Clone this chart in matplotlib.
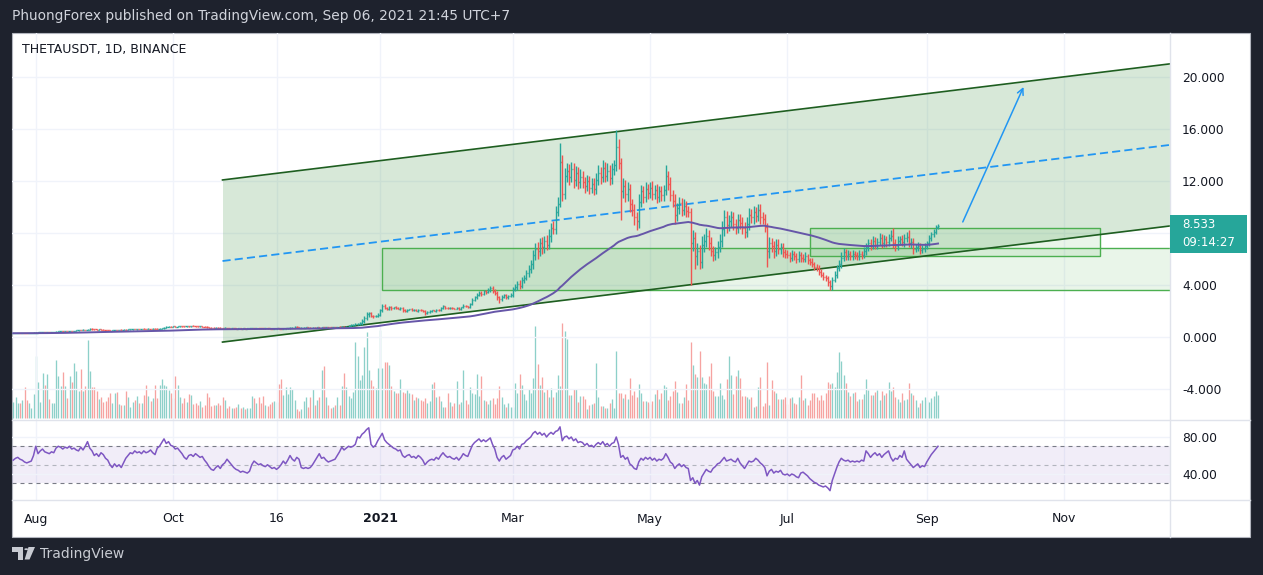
import numpy as np
import pandas as pd
import matplotlib
matplotlib.use("Agg")
import matplotlib.pyplot as plt
import matplotlib.dates as mdates
from matplotlib.collections import LineCollection
from matplotlib.patches import Rectangle, Polygon, Circle
from matplotlib.lines import Line2D

plt.rcParams['font.family'] = ['DejaVu Sans']

# ---- daily data, 2020-07-22 .. 2021-09-06 (one row per month) ----
first_day = "2020-07-22"

close = [
    0.29, 0.30, 0.31, 0.30, 0.32, 0.31, 0.30, 0.31, 0.32, 0.33,
    0.34, 0.35, 0.36, 0.37, 0.36, 0.37, 0.36, 0.37, 0.38, 0.40, 0.44, 0.45, 0.44, 0.46, 0.45, 0.46, 0.45, 0.47, 0.52, 0.54, 0.53, 0.55, 0.54, 0.56, 0.64, 0.60, 0.58, 0.57, 0.58, 0.56, 0.55,
    0.52, 0.50, 0.49, 0.52, 0.54, 0.53, 0.55, 0.54, 0.56, 0.55, 0.58, 0.60, 0.61, 0.60, 0.62, 0.61, 0.63, 0.62, 0.61, 0.63, 0.62, 0.64, 0.63, 0.62, 0.64, 0.66, 0.70, 0.78, 0.80, 0.79,
    0.81, 0.79, 0.82, 0.84, 0.83, 0.82, 0.84, 0.83, 0.85, 0.84, 0.82, 0.81, 0.83, 0.80, 0.78, 0.76, 0.72, 0.71, 0.70, 0.72, 0.71, 0.70, 0.69, 0.70, 0.68, 0.66, 0.67, 0.66, 0.65, 0.66, 0.65,
    0.66, 0.65, 0.66, 0.67, 0.68, 0.67, 0.69, 0.68, 0.67, 0.66, 0.67, 0.66, 0.65, 0.64, 0.65, 0.66, 0.65, 0.64, 0.65, 0.66, 0.68, 0.70, 0.72, 0.78, 0.74, 0.70, 0.72, 0.73, 0.74, 0.72,
    0.71, 0.73, 0.72, 0.74, 0.73, 0.75, 0.74, 0.76, 0.75, 0.74, 0.76, 0.75, 0.77, 0.76, 0.78, 0.77, 0.80, 0.86, 0.92, 0.95, 0.98, 1.02, 1.05, 1.20, 1.45, 1.75, 1.82, 1.62, 1.58, 1.65, 1.72,
    2.05, 2.40, 2.25, 2.15, 2.30, 2.20, 2.28, 2.22, 2.18, 2.25, 2.05, 1.98, 2.10, 2.12, 2.05, 2.08, 2.02, 2.10, 2.06, 1.98, 1.82, 1.92, 2.00, 2.04, 2.02, 2.10, 2.05, 2.20, 2.35, 2.25, 2.20,
    2.25, 2.20, 2.18, 2.22, 2.15, 2.28, 2.40, 2.35, 2.30, 2.55, 2.85, 3.05, 3.25, 3.40, 3.30, 3.50, 3.45, 3.60, 3.75, 3.55, 3.40, 3.05, 2.90, 3.10, 3.20, 3.05, 3.15, 3.25,
    3.70, 3.85, 4.10, 3.95, 4.40, 4.55, 4.90, 5.20, 5.60, 6.30, 6.80, 6.60, 7.20, 6.90, 7.40, 7.10, 7.80, 8.40, 8.30, 9.60, 10.20, 13.50, 11.00, 12.40, 12.80, 12.30, 12.90, 12.10, 12.60, 11.90, 12.30,
    11.90, 11.60, 12.00, 11.50, 11.80, 11.40, 12.10, 12.60, 12.30, 13.00, 12.40, 12.80, 12.20, 12.90, 13.20, 14.60, 13.40, 11.20, 11.60, 11.00, 11.40, 10.20, 9.80, 9.20, 8.90, 10.40, 11.20, 10.80, 11.40, 11.10,
    11.50, 11.00, 11.30, 10.80, 11.20, 10.90, 11.30, 12.40, 11.80, 10.90, 10.50, 9.40, 9.90, 10.30, 9.80, 10.10, 9.70, 9.60, 7.20, 7.60, 6.20, 6.60, 5.80, 7.10, 7.40, 7.80, 7.20, 6.60, 6.30, 6.50, 6.90,
    7.40, 8.30, 9.20, 8.60, 8.90, 9.20, 8.70, 8.40, 9.00, 8.80, 8.40, 8.10, 8.70, 9.40, 9.20, 9.60, 9.30, 9.80, 9.20, 9.10, 8.50, 6.60, 7.20, 7.00, 6.60, 7.10, 6.80, 6.90, 6.50, 6.40,
    6.30, 6.10, 6.40, 6.20, 6.00, 6.30, 6.10, 6.00, 6.20, 5.90, 5.80, 5.60, 5.40, 5.30, 5.00, 4.80, 4.60, 4.50, 4.20, 3.90, 4.40, 4.80, 5.30, 5.60, 6.10, 6.50, 6.20, 6.40, 6.20, 6.40, 6.30,
    6.20, 6.40, 6.30, 6.60, 6.90, 7.20, 7.00, 7.40, 7.10, 7.30, 7.60, 7.20, 7.50, 7.30, 7.60, 7.80, 7.20, 7.00, 7.40, 7.50, 7.30, 7.60, 7.70, 7.20, 7.30, 6.80, 6.90, 7.00, 6.70, 6.80, 7.00,
    7.20, 7.60, 7.90, 8.10, 8.45, 8.533,
]

wick_up = [
    0.01, 0.02, 0.01, 0.01, 0.02, 0.01, 0.01, 0.02, 0.01, 0.02,
    0.02, 0.01, 0.02, 0.01, 0.02, 0.01, 0.02, 0.01, 0.02, 0.03, 0.03, 0.02, 0.03, 0.02, 0.03, 0.02, 0.03, 0.02, 0.03, 0.03, 0.02, 0.03, 0.02, 0.04, 0.04, 0.03, 0.02, 0.03, 0.02, 0.03, 0.02,
    0.02, 0.03, 0.02, 0.03, 0.02, 0.03, 0.02, 0.03, 0.02, 0.03, 0.02, 0.03, 0.02, 0.03, 0.02, 0.03, 0.02, 0.03, 0.02, 0.03, 0.02, 0.03, 0.02, 0.03, 0.02, 0.03, 0.04, 0.04, 0.03, 0.04,
    0.03, 0.04, 0.03, 0.04, 0.03, 0.04, 0.03, 0.04, 0.03, 0.04, 0.03, 0.04, 0.03, 0.04, 0.03, 0.04, 0.03, 0.04, 0.03, 0.04, 0.03, 0.04, 0.03, 0.04, 0.03, 0.04, 0.03, 0.04, 0.03, 0.04, 0.03,
    0.03, 0.02, 0.03, 0.02, 0.03, 0.02, 0.03, 0.02, 0.03, 0.02, 0.03, 0.02, 0.03, 0.02, 0.03, 0.02, 0.03, 0.02, 0.03, 0.02, 0.03, 0.04, 0.04, 0.06, 0.03, 0.02, 0.03, 0.02, 0.03, 0.02,
    0.03, 0.04, 0.03, 0.04, 0.03, 0.04, 0.03, 0.04, 0.03, 0.04, 0.03, 0.04, 0.03, 0.04, 0.03, 0.04, 0.03, 0.05, 0.06, 0.05, 0.06, 0.08, 0.10, 0.15, 0.20, 0.15, 0.12, 0.10, 0.10, 0.08, 0.10,
    0.10, 0.15, 0.10, 0.08, 0.10, 0.08, 0.06, 0.08, 0.06, 0.08, 0.06, 0.08, 0.05, 0.06, 0.08, 0.05, 0.06, 0.05, 0.06, 0.05, 0.06, 0.05, 0.06, 0.05, 0.06, 0.08, 0.06, 0.08, 0.10, 0.06, 0.08,
    0.06, 0.05, 0.06, 0.05, 0.08, 0.06, 0.10, 0.08, 0.06, 0.10, 0.15, 0.12, 0.15, 0.12, 0.15, 0.12, 0.10, 0.15, 0.20, 0.15, 0.12, 0.10, 0.12, 0.10, 0.12, 0.10, 0.08, 0.10,
    0.15, 0.20, 0.20, 0.25, 0.20, 0.25, 0.25, 0.30, 0.35, 0.40, 0.45, 0.50, 0.40, 0.50, 0.40, 0.45, 0.50, 0.40, 0.50, 0.45, 0.60, 1.40, 0.50, 0.60, 0.60, 0.50, 0.60, 0.50, 0.55, 0.50, 0.60,
    0.50, 0.40, 0.50, 0.40, 0.45, 0.40, 0.50, 0.60, 0.50, 0.60, 0.50, 0.55, 0.45, 0.50, 0.40, 1.30, 0.60, 0.40, 0.60, 0.50, 0.50, 0.40, 0.45, 0.40, 0.40, 0.60, 0.50, 0.45, 0.50, 0.40,
    0.40, 0.50, 0.40, 0.50, 0.40, 0.45, 0.40, 0.80, 0.40, 0.50, 0.40, 0.50, 0.40, 0.45, 0.40, 0.50, 0.40, 0.40, 0.30, 0.60, 0.50, 0.60, 0.50, 0.70, 0.50, 0.60, 0.40, 0.50, 0.40, 0.40, 0.50,
    0.50, 0.60, 0.60, 0.50, 0.45, 0.50, 0.45, 0.40, 0.50, 0.45, 0.40, 0.45, 0.50, 0.50, 0.45, 0.50, 0.40, 0.40, 0.45, 0.40, 0.40, 0.30, 0.50, 0.45, 0.40, 0.45, 0.40, 0.35, 0.30, 0.30,
    0.30, 0.25, 0.30, 0.25, 0.25, 0.30, 0.25, 0.25, 0.30, 0.20, 0.20, 0.25, 0.20, 0.20, 0.20, 0.20, 0.20, 0.15, 0.20, 0.20, 0.25, 0.30, 0.25, 0.30, 0.40, 0.35, 0.30, 0.30, 0.25, 0.30, 0.25,
    0.25, 0.30, 0.25, 0.30, 0.30, 0.35, 0.30, 0.35, 0.30, 0.35, 0.40, 0.30, 0.35, 0.30, 0.35, 0.40, 0.60, 0.30, 0.35, 0.30, 0.35, 0.30, 0.35, 0.50, 0.30, 0.30, 0.25, 0.30, 0.25, 0.30, 0.25,
    0.20, 0.25, 0.20, 0.20, 0.20, 0.15,
]

wick_dn = [
    0.01, 0.01, 0.02, 0.01, 0.01, 0.02, 0.01, 0.01, 0.02, 0.01,
    0.01, 0.02, 0.01, 0.02, 0.01, 0.02, 0.01, 0.02, 0.01, 0.02, 0.02, 0.03, 0.02, 0.03, 0.02, 0.03, 0.02, 0.03, 0.02, 0.03, 0.03, 0.02, 0.03, 0.02, 0.03, 0.04, 0.03, 0.02, 0.03, 0.02, 0.03,
    0.03, 0.02, 0.03, 0.02, 0.03, 0.02, 0.03, 0.02, 0.03, 0.02, 0.03, 0.02, 0.03, 0.02, 0.03, 0.02, 0.03, 0.02, 0.03, 0.02, 0.03, 0.02, 0.03, 0.02, 0.03, 0.02, 0.03, 0.03, 0.04, 0.03,
    0.04, 0.03, 0.04, 0.03, 0.04, 0.03, 0.04, 0.03, 0.04, 0.03, 0.04, 0.03, 0.04, 0.03, 0.04, 0.03, 0.04, 0.03, 0.04, 0.03, 0.04, 0.03, 0.04, 0.03, 0.04, 0.03, 0.04, 0.03, 0.04, 0.03, 0.04,
    0.02, 0.03, 0.02, 0.03, 0.02, 0.03, 0.02, 0.03, 0.02, 0.03, 0.02, 0.03, 0.02, 0.03, 0.02, 0.03, 0.02, 0.03, 0.02, 0.03, 0.02, 0.03, 0.03, 0.04, 0.05, 0.03, 0.02, 0.03, 0.02, 0.03,
    0.04, 0.03, 0.04, 0.03, 0.04, 0.03, 0.04, 0.03, 0.04, 0.03, 0.04, 0.03, 0.04, 0.03, 0.04, 0.03, 0.04, 0.04, 0.05, 0.04, 0.05, 0.06, 0.08, 0.10, 0.12, 0.15, 0.20, 0.12, 0.10, 0.08, 0.10,
    0.08, 0.10, 0.12, 0.10, 0.08, 0.10, 0.06, 0.08, 0.06, 0.08, 0.10, 0.08, 0.06, 0.05, 0.08, 0.06, 0.05, 0.06, 0.05, 0.08, 0.10, 0.06, 0.05, 0.06, 0.05, 0.06, 0.08, 0.06, 0.05, 0.08, 0.06,
    0.05, 0.06, 0.05, 0.06, 0.08, 0.05, 0.06, 0.08, 0.10, 0.06, 0.08, 0.10, 0.12, 0.10, 0.15, 0.10, 0.12, 0.10, 0.12, 0.20, 0.15, 0.20, 0.25, 0.12, 0.10, 0.12, 0.10, 0.08,
    0.15, 0.15, 0.20, 0.25, 0.15, 0.25, 0.20, 0.25, 0.30, 0.35, 0.40, 0.60, 0.40, 0.50, 0.45, 0.40, 0.35, 0.50, 0.40, 0.40, 0.30, 0.20, 0.50, 0.40, 0.50, 0.60, 0.40, 0.60, 0.50, 0.50, 0.40,
    0.40, 0.50, 0.40, 0.50, 0.40, 0.45, 0.40, 0.40, 0.50, 0.40, 0.50, 0.40, 0.50, 0.40, 0.45, 0.40, 0.50, 2.20, 0.50, 0.60, 0.50, 0.60, 0.50, 0.60, 0.70, 0.50, 0.40, 0.50, 0.40, 0.50,
    0.40, 0.45, 0.40, 0.50, 0.40, 0.40, 0.45, 0.40, 0.50, 0.45, 0.50, 0.70, 0.50, 0.40, 0.50, 0.40, 0.45, 0.40, 3.20, 0.60, 1.00, 0.70, 0.60, 0.50, 0.60, 0.50, 0.50, 0.40, 0.45, 0.40, 0.40,
    0.40, 0.45, 0.50, 0.60, 0.45, 0.40, 0.50, 0.45, 0.40, 0.50, 0.45, 0.50, 0.40, 0.45, 0.40, 0.50, 0.45, 0.40, 0.50, 0.40, 0.45, 1.20, 0.50, 0.45, 0.50, 0.40, 0.45, 0.40, 0.35, 0.30,
    0.25, 0.30, 0.25, 0.30, 0.30, 0.25, 0.30, 0.25, 0.25, 0.30, 0.25, 0.20, 0.25, 0.20, 0.25, 0.20, 0.25, 0.20, 0.25, 0.30, 0.25, 0.20, 0.30, 0.25, 0.30, 0.25, 0.30, 0.25, 0.30, 0.25, 0.30,
    0.30, 0.25, 0.30, 0.25, 0.30, 0.25, 0.30, 0.25, 0.35, 0.30, 0.25, 0.35, 0.30, 0.35, 0.30, 0.25, 0.35, 0.40, 0.30, 0.35, 0.30, 0.35, 0.30, 0.30, 0.35, 0.40, 0.30, 0.25, 0.30, 0.25, 0.30,
    0.25, 0.20, 0.25, 0.20, 0.20, 0.15,
]

# volume, relative units (same scale for all days)
volume = [
    16, 21, 15, 15, 18, 31, 18, 15, 10, 24,
    62, 36, 16, 45, 33, 44, 19, 15, 15, 58, 42, 32, 46, 32, 20, 42, 36, 55, 47, 27, 49, 27, 32, 78, 47, 31, 31, 27, 19, 21, 16,
    17, 21, 25, 15, 25, 26, 14, 13, 13, 27, 21, 11, 16, 18, 22, 15, 15, 23, 33, 22, 17, 20, 33, 20, 33, 39, 33, 32, 28, 25,
    20, 42, 33, 21, 15, 20, 16, 24, 23, 14, 15, 13, 17, 11, 13, 25, 21, 12, 13, 13, 15, 13, 21, 18, 10, 12, 10, 10, 11, 14, 10,
    11, 9, 10, 10, 22, 20, 15, 21, 15, 22, 13, 12, 14, 16, 17, 16, 34, 39, 23, 31, 24, 31, 29, 18, 9, 7, 9, 17, 21, 11,
    21, 29, 13, 18, 21, 48, 52, 21, 13, 10, 11, 13, 21, 13, 32, 45, 31, 22, 20, 26, 76, 62, 38, 43, 71, 86, 48, 38, 32, 30, 50,
    88, 50, 56, 56, 53, 32, 27, 25, 25, 39, 26, 25, 28, 25, 24, 18, 21, 20, 18, 17, 20, 15, 17, 34, 36, 21, 22, 17, 11, 11, 25,
    16, 12, 15, 37, 14, 16, 48, 18, 14, 31, 25, 24, 44, 22, 42, 18, 17, 14, 18, 20, 14, 20, 32, 21, 14, 11, 15, 11,
    11, 35, 25, 44, 33, 24, 18, 29, 25, 40, 92, 54, 33, 41, 26, 29, 21, 30, 21, 26, 43, 32, 95, 87, 79, 23, 23, 29, 29, 16, 22,
    22, 19, 9, 13, 14, 15, 55, 21, 12, 12, 10, 10, 15, 19, 10, 67, 25, 25, 20, 24, 19, 40, 23, 27, 21, 34, 25, 17, 17, 16,
    14, 17, 24, 29, 19, 25, 33, 31, 18, 22, 27, 37, 26, 15, 15, 21, 34, 18, 76, 53, 44, 41, 67, 41, 35, 34, 42, 55, 27, 22, 22,
    35, 23, 19, 39, 62, 43, 24, 42, 48, 40, 22, 22, 21, 19, 21, 11, 12, 31, 41, 12, 15, 56, 13, 38, 27, 25, 19, 19, 19, 21,
    14, 20, 21, 15, 14, 21, 43, 18, 20, 13, 18, 25, 25, 21, 18, 23, 18, 25, 36, 34, 35, 31, 46, 66, 57, 43, 35, 26, 22, 25, 26,
    17, 19, 19, 24, 39, 28, 23, 23, 26, 28, 18, 27, 23, 25, 36, 27, 31, 21, 19, 16, 25, 18, 19, 35, 25, 23, 18, 11, 15, 18, 21,
    18, 16, 20, 22, 27, 23,
]

rsi = [
    55, 57, 58, 56, 55, 53, 52, 53, 54, 60,
    70, 62, 65, 67, 64, 63, 62, 64, 63, 68, 70, 69, 67, 69, 68, 70, 67, 68, 66, 65, 69, 66, 70, 75, 68, 65, 60, 62, 59, 63, 61,
    57, 55, 50, 47, 51, 48, 50, 47, 52, 57, 60, 63, 62, 65, 63, 64, 62, 65, 63, 64, 66, 63, 61, 68, 70, 74, 78, 73, 75, 71,
    70, 67, 68, 65, 62, 58, 56, 60, 61, 59, 62, 60, 58, 59, 55, 52, 48, 45, 44, 47, 49, 46, 50, 52, 56, 53, 50, 47, 45, 44, 42,
    43, 42, 41, 43, 50, 54, 52, 50, 51, 49, 48, 50, 48, 46, 47, 45, 47, 50, 54, 51, 55, 60, 56, 54, 58, 56, 47, 46, 47, 46,
    47, 50, 54, 58, 62, 57, 58, 55, 53, 54, 55, 56, 60, 64, 69, 66, 68, 70, 69, 70, 72, 80, 79, 83, 85, 88, 90, 72, 69, 71, 76,
    80, 84, 77, 74, 72, 70, 68, 67, 65, 66, 60, 58, 60, 61, 58, 59, 57, 60, 58, 55, 50, 53, 55, 56, 55, 58, 56, 60, 63, 60, 58,
    59, 57, 56, 58, 55, 58, 62, 60, 59, 65, 71, 74, 76, 78, 75, 77, 75, 77, 79, 72, 67, 58, 54, 58, 60, 56, 58, 60,
    66, 67, 70, 67, 72, 73, 76, 78, 80, 84, 86, 83, 85, 82, 84, 80, 83, 85, 83, 86, 87, 91, 76, 80, 81, 78, 80, 76, 78, 74, 75,
    74, 71, 73, 70, 71, 69, 72, 74, 72, 75, 71, 73, 70, 73, 74, 80, 72, 58, 60, 56, 58, 51, 49, 46, 45, 53, 57, 55, 58, 56,
    58, 55, 57, 54, 56, 55, 57, 62, 58, 53, 51, 46, 49, 51, 48, 50, 47, 46, 33, 36, 30, 33, 28, 37, 41, 45, 43, 42, 46, 48, 51,
    52, 55, 58, 54, 55, 56, 54, 53, 57, 52, 49, 46, 50, 54, 53, 54, 57, 55, 52, 50, 47, 38, 43, 45, 41, 43, 42, 44, 40, 39,
    40, 38, 40, 39, 37, 36, 41, 42, 40, 38, 35, 33, 31, 30, 28, 27, 26, 27, 25, 22, 33, 40, 47, 53, 57, 55, 54, 55, 53, 54, 53,
    54, 53, 55, 54, 65, 62, 58, 61, 63, 60, 62, 58, 61, 63, 65, 58, 54, 57, 56, 60, 58, 65, 56, 53, 50, 47, 49, 51, 47, 49, 48,
    53, 57, 61, 64, 67, 70,
]

# ---- drawings on the chart ----
channel_dates = ["2020-10-23", "2021-12-18"]
channel_lower = [-0.39, 8.54]
channel_width = 12.47
box_big = ["2021-01-02", 3.62, 6.85]
box_small = ["2021-07-11", "2021-11-17", 6.23, 8.38]
arrow_from = ("2021-09-17", 8.85)
arrow_to = ("2021-10-14", 19.23)

price_ticks = [-4, 0, 4, 8, 12, 16, 20]
rsi_ticks = [40, 80]
time_ticks = ["2020-08-01", "2020-10-01", "2020-11-16", "2021-01-01", "2021-03-01",
              "2021-05-01", "2021-07-01", "2021-09-01", "2021-11-01"]
time_labels = ["Aug", "Oct", "16", "2021", "Mar", "May", "Jul", "Sep", "Nov"]
last_price = "8.533"
countdown = "09:14:27"

UP, DOWN = '#26a69a', '#ef5350'
W, H = 1263, 575


def fx(px):
    return px / W


def fy(py):
    return 1 - py / H


def d2n(s):
    return mdates.date2num(pd.Timestamp(s))


close = np.array(close)
n = len(close)
x = mdates.date2num(pd.date_range(first_day, periods=n, freq="D"))
opn = np.r_[close[0], close[:-1]]
high = np.maximum(opn, close) + np.array(wick_up)
low = np.minimum(opn, close) - np.array(wick_dn)
is_up = close >= opn
ema = pd.Series(close).ewm(span=100, adjust=False).mean().values

fig = plt.figure(figsize=(W / 100, H / 100), dpi=100, facecolor='#1e222d')
fig.patches.append(Rectangle((fx(12), fy(537)), fx(1250) - fx(12), fy(33) - fy(537),
                             transform=fig.transFigure, facecolor='white',
                             edgecolor='#b2b5be', lw=0.8, zorder=0))

t0 = d2n("2021-01-01")
xlim = (t0 - 163.56, t0 + 351.1)
rect_main = [fx(12), fy(420), fx(1170) - fx(12), fy(33) - fy(420)]
rect_rsi = [fx(12), fy(500), fx(1170) - fx(12), fy(420) - fy(500)]

ax_vol = fig.add_axes(rect_main, zorder=1)
ax = fig.add_axes(rect_main, zorder=2)
ax_rsi = fig.add_axes(rect_rsi, zorder=2)
for a in (ax_vol, ax, ax_rsi):
    a.set_xlim(*xlim)
    a.patch.set_visible(False)
    for s in a.spines.values():
        s.set_visible(False)

# volume
ax_vol.vlines(x, 0, volume, colors=np.where(is_up, '#8dd0c9', '#f6a3a1'), lw=0.95)
ax_vol.set_ylim(-2, 385)
ax_vol.axis('off')

# grid
for t in time_ticks:
    ax.axvline(d2n(t), color='#f0f3fa', lw=1, zorder=0)
    ax_rsi.axvline(d2n(t), color='#f0f3fa', lw=1, zorder=0)
for p in price_ticks:
    ax.axhline(p, color='#f0f3fa', lw=1, zorder=0)

# channel
cx = np.array([d2n(channel_dates[0]), d2n(channel_dates[1])])
slope = (channel_lower[1] - channel_lower[0]) / (cx[1] - cx[0])
xs = np.array([cx[0], xlim[1] + 20])
lower = channel_lower[0] + slope * (xs - cx[0])
upper = lower + channel_width
ax.fill_between(xs, lower, upper, color=(0.22, 0.56, 0.24, 0.2), lw=0, zorder=1)
ax.plot(xs, lower, color='#1e5e20', lw=1.2, zorder=3)
ax.plot(xs, upper, color='#1e5e20', lw=1.2, zorder=3)
ax.plot(xs, lower + channel_width / 2, color='#2196f3', lw=1.3, dashes=(4.5, 2.3), zorder=3)

# boxes
bx = d2n(box_big[0])
ax.add_patch(Rectangle((bx, box_big[1]), xlim[1] + 20 - bx, box_big[2] - box_big[1],
                       facecolor=(0.3, 0.69, 0.31, 0.12), edgecolor='#4caf50', lw=1, zorder=2))
sx0, sx1 = d2n(box_small[0]), d2n(box_small[1])
ax.add_patch(Rectangle((sx0, box_small[2]), sx1 - sx0, box_small[3] - box_small[2],
                       facecolor=(0.3, 0.69, 0.31, 0.12), edgecolor='#4caf50', lw=1, zorder=2))

# price bars
segs, cols = [], []
for i in range(n):
    c = UP if is_up[i] else DOWN
    segs += [[(x[i], low[i]), (x[i], high[i])],
             [(x[i] - 0.45, opn[i]), (x[i], opn[i])],
             [(x[i], close[i]), (x[i] + 0.45, close[i])]]
    cols += [c, c, c]
ax.add_collection(LineCollection(segs, colors=cols, linewidths=1.0, zorder=4))

ax.plot(x, ema, color='#6656a8', lw=1.4, zorder=5)

ax.annotate('', xy=(d2n(arrow_to[0]), arrow_to[1]), xytext=(d2n(arrow_from[0]), arrow_from[1]),
            arrowprops=dict(arrowstyle='->', color='#2196f3', lw=1.1, mutation_scale=11,
                            shrinkA=0, shrinkB=0), zorder=6)

ax.set_ylim(-6.385, 23.385)
ax.yaxis.tick_right()
ax.set_yticks(price_ticks)
# the 8.000 label sits under the last-price badge
ax.set_yticklabels(["" if p == 8 else f"{p:.3f}" for p in price_ticks])
ax.tick_params(axis='y', length=0, pad=8.6, labelsize=8.8, labelcolor='#131722')
ax.set_xticks([])

# RSI panel
ax_rsi.set_ylim(11.9, 98.4)
ax_rsi.axhspan(30, 70, color=(0.494, 0.341, 0.761, 0.1), lw=0, zorder=0)
for v in rsi_ticks:
    ax_rsi.axhline(v, color='#f0f3fa', lw=1, zorder=0)
ax_rsi.axhline(70, color='#787b86', lw=0.8, dashes=(3.6, 3.6), zorder=1)
ax_rsi.axhline(30, color='#787b86', lw=0.8, dashes=(3.6, 3.6), zorder=1)
ax_rsi.axhline(50, color='#b2b5be', lw=0.8, dashes=(3.6, 3.6), zorder=1)
ax_rsi.plot(x, rsi, color='#7e57c2', lw=1.1, zorder=3)
ax_rsi.yaxis.tick_right()
ax_rsi.set_yticks(rsi_ticks)
ax_rsi.set_yticklabels([f"{v:.2f}" for v in rsi_ticks])
ax_rsi.tick_params(axis='y', length=0, pad=8.6, labelsize=8.8, labelcolor='#131722')
ax_rsi.set_xticks([d2n(t) for t in time_ticks])
ax_rsi.set_xticklabels(time_labels)
ax_rsi.tick_params(axis='x', length=0, pad=9, labelsize=9, labelcolor='#131722')
for lab in ax_rsi.get_xticklabels():
    if lab.get_text() == "2021":
        lab.set_fontweight('bold')

# separators
line_kw = dict(transform=fig.transFigure, color='#e0e3eb', lw=1, zorder=10)
fig.add_artist(Line2D([fx(12), fx(1250)], [fy(420), fy(420)], **line_kw))
fig.add_artist(Line2D([fx(12), fx(1250)], [fy(500), fy(500)], **line_kw))
fig.add_artist(Line2D([fx(1170), fx(1170)], [fy(33), fy(537)], **line_kw))

# last price badge
fig.patches.append(Rectangle((fx(1170), fy(253)), fx(1247) - fx(1170), fy(215) - fy(253),
                             transform=fig.transFigure, facecolor=UP, edgecolor='none', zorder=11))
fig.text(fx(1182), fy(224.5), last_price, color='white', fontsize=8.5, va='center', ha='left', zorder=12)
fig.text(fx(1182), fy(243), countdown, color='white', fontsize=8.5, va='center', ha='left', zorder=12)

# texts
fig.text(fx(22), fy(50), "THETAUSDT, 1D, BINANCE", color='#131722', fontsize=9, va='center', ha='left')
fig.text(fx(12), fy(16), "PhuongForex published on TradingView.com, Sep 06, 2021 21:45 UTC+7",
         color='#d1d4dc', fontsize=9.9, va='center', ha='left')

# footer logo
logo = '#c8cbd2'
fig.patches.append(Polygon([(fx(12), fy(547)), (fx(23.3), fy(547)), (fx(23.3), fy(559.5)),
                            (fx(17.8), fy(559.5)), (fx(17.8), fy(551.8)), (fx(12), fy(551.8))],
                           closed=True, transform=fig.transFigure, facecolor=logo, edgecolor='none'))
fig.patches.append(Circle((fx(26.3), fy(549.2)), 2.0 / W, transform=fig.transFigure,
                          facecolor=logo, edgecolor='none'))
fig.patches.append(Polygon([(fx(28.5), fy(547)), (fx(35), fy(547)), (fx(29.5), fy(559.5)),
                            (fx(24.6), fy(559.5))],
                           closed=True, transform=fig.transFigure, facecolor=logo, edgecolor='none'))
fig.text(fx(40), fy(554), "TradingView", color=logo, fontsize=10, va='center', ha='left')

fig.savefig("out.png", dpi=100, facecolor=fig.get_facecolor())
